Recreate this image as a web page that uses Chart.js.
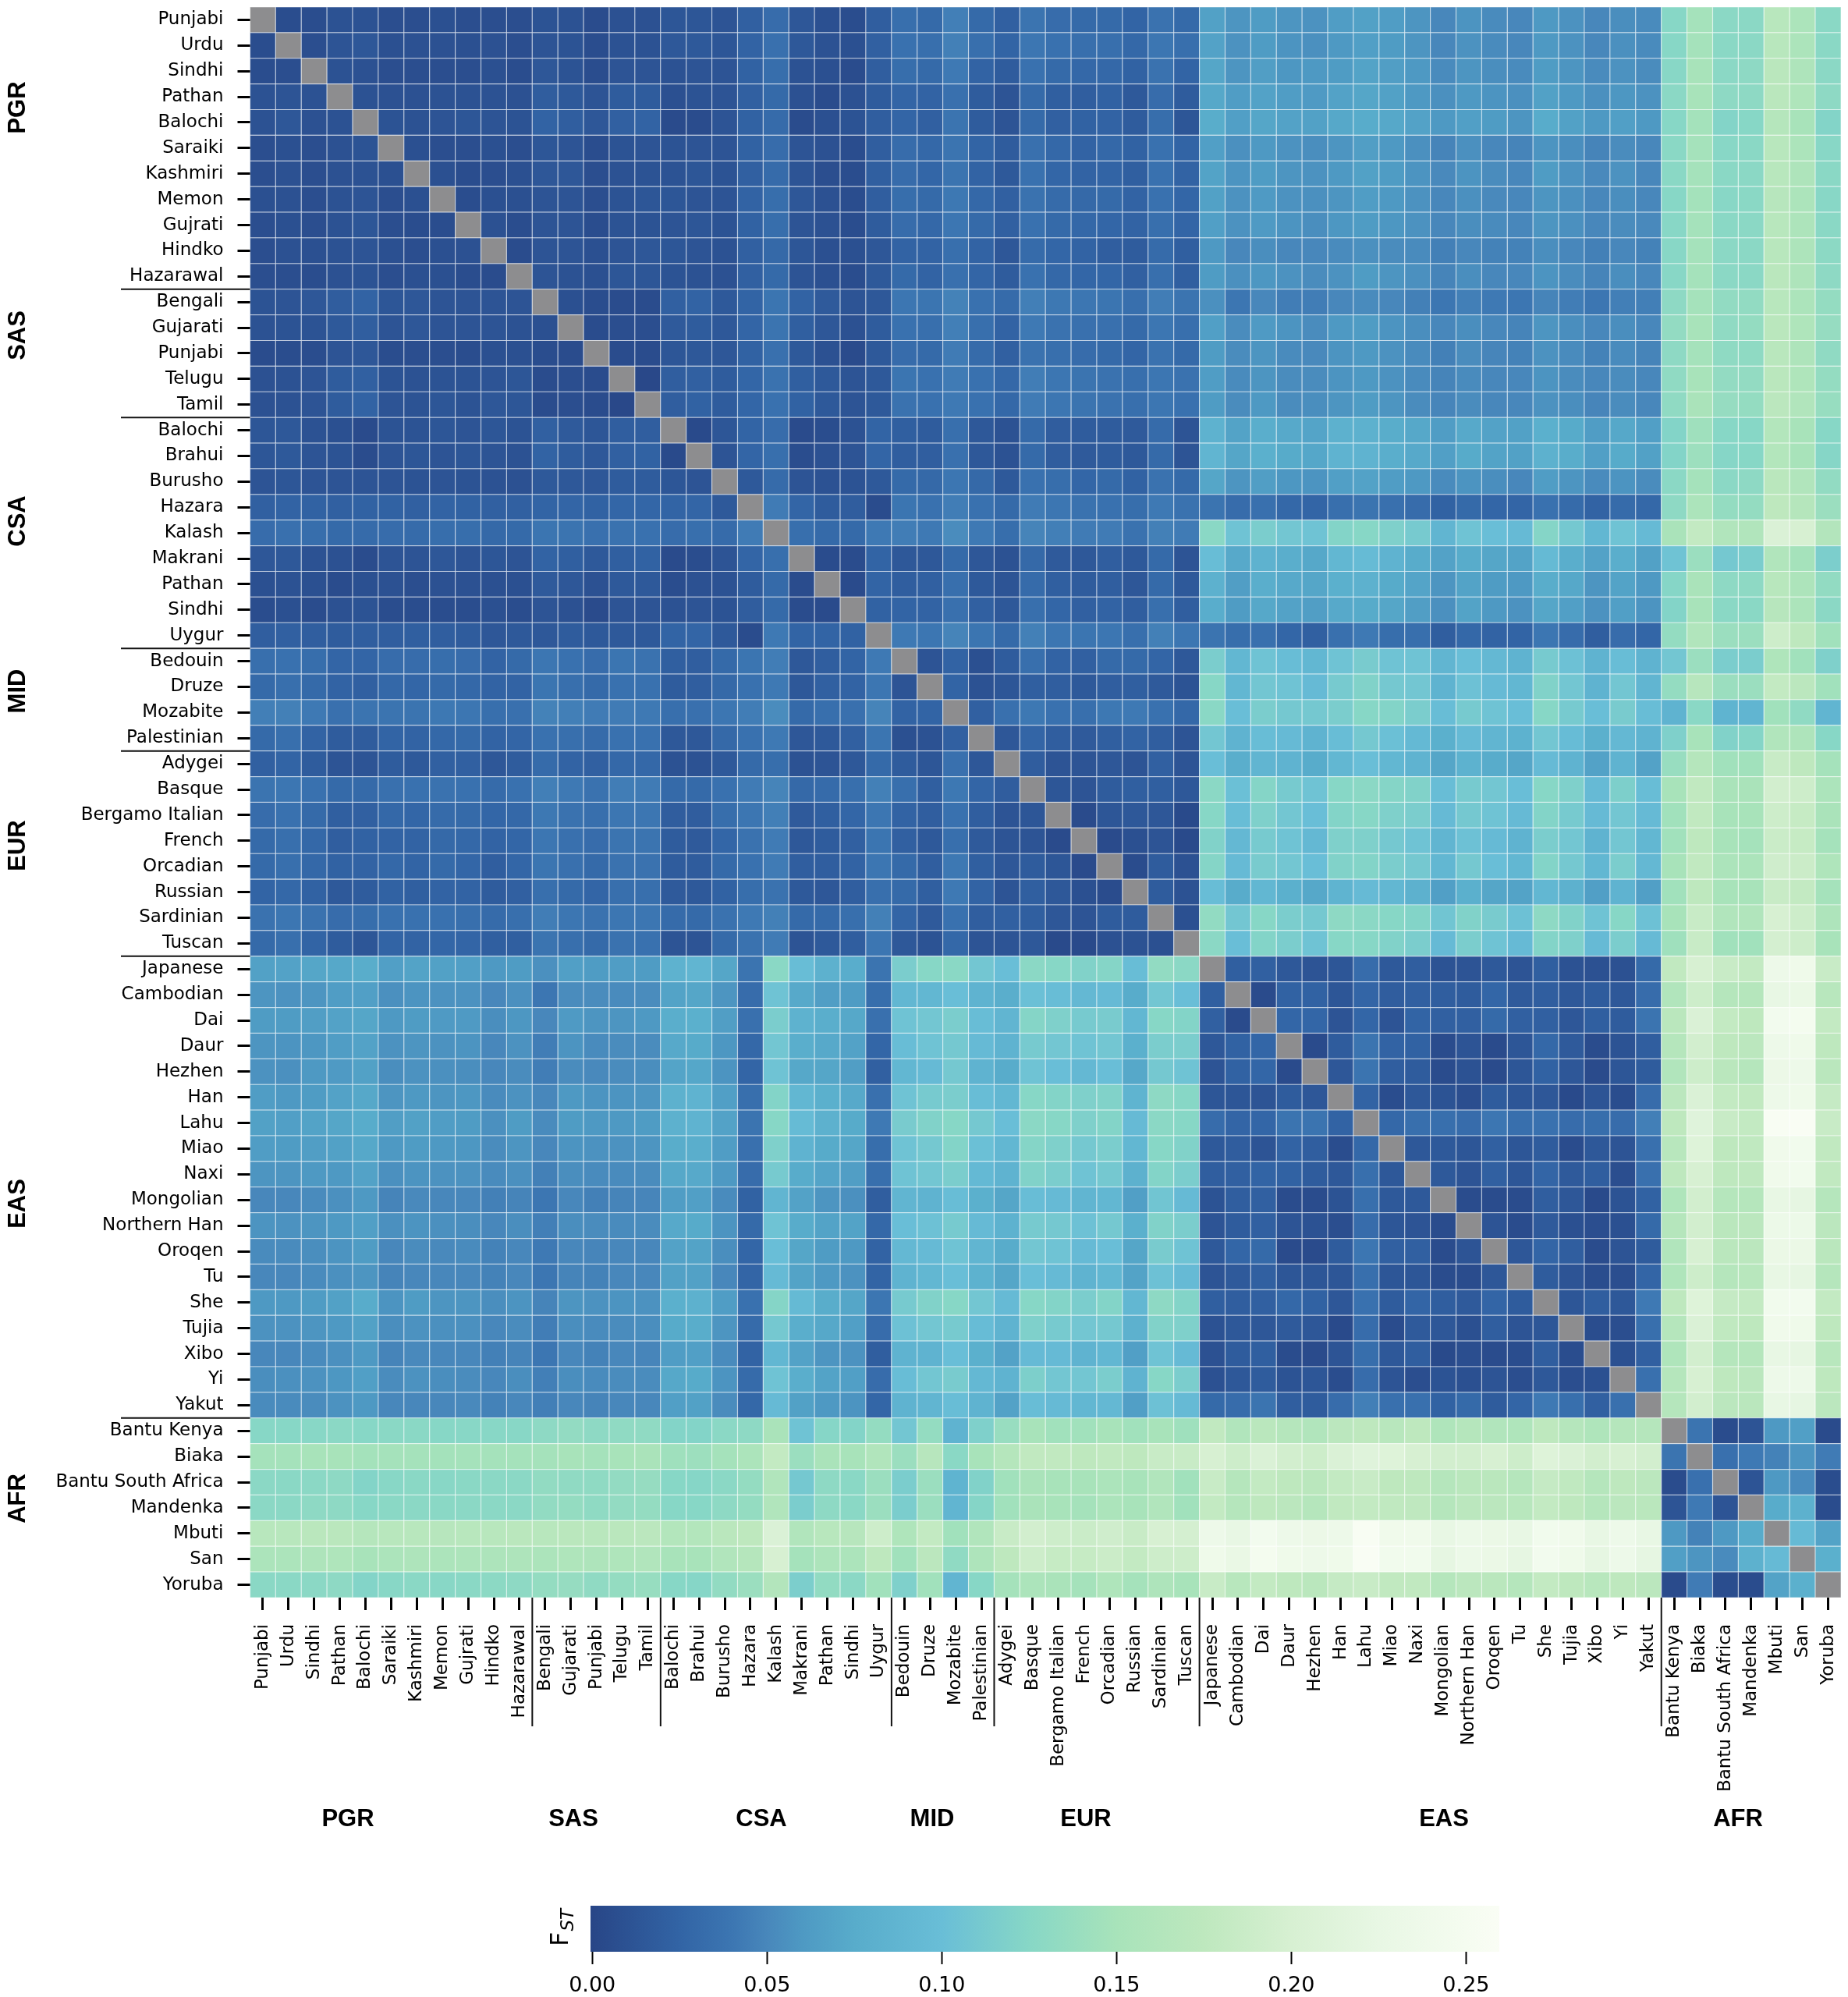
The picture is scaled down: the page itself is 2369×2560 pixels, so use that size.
<!DOCTYPE html>
<html>
<head>
<meta charset="utf-8">
<title>Pairwise FST between populations</title>
<script src="https://cdn.jsdelivr.net/npm/chart.js@4"></script>
<style>
  html, body { margin: 0; padding: 0; background: #fff; }
  #wrap { position: relative; width: 2369px; height: 2560px; overflow: hidden; }
  canvas { position: absolute; left: 0; display: block; }
</style>
</head>
<body>
<div id="wrap">
  <canvas id="heat" width="2369" height="2360" style="top:0"></canvas>
  <canvas id="cbar" width="2369" height="200" style="top:2360px"></canvas>
</div>
<script>
// Population labels, top to bottom and left to right
const populations = [
  'Punjabi','Urdu','Sindhi','Pathan','Balochi','Saraiki','Kashmiri','Memon','Gujrati','Hindko','Hazarawal',
  'Bengali','Gujarati','Punjabi','Telugu','Tamil',
  'Balochi','Brahui','Burusho','Hazara','Kalash','Makrani','Pathan','Sindhi','Uygur',
  'Bedouin','Druze','Mozabite','Palestinian',
  'Adygei','Basque','Bergamo Italian','French','Orcadian','Russian','Sardinian','Tuscan',
  'Japanese','Cambodian','Dai','Daur','Hezhen','Han','Lahu','Miao','Naxi','Mongolian','Northern Han','Oroqen','Tu','She','Tujia','Xibo','Yi','Yakut',
  'Bantu Kenya','Biaka','Bantu South Africa','Mandenka','Mbuti','San','Yoruba'
];
const groupNames = ['PGR','SAS','CSA','MID','EUR','EAS','AFR'];
// Index of the first population after each group boundary line
const groupBreaks = [11,16,25,29,37,55];

// Upper triangle of the FST matrix (values x 1000); each row starts just right of the diagonal
const pgrRows = [
 [6,6,10,10,7,7,8,7,7,7, 11,10,5,9,9, 13,13,12,22,32,14,8,6,20, 34,30,45,30, 22,38,32,30,30,25,37,30, 66,58,62,58,56,63,66,63,58,50,57,52,50,60,56,50,54,52, 125,148,128,128,168,155,127],
 [7,12,14,8,9,9,8,9,7, 12,11,6,10,10, 15,16,13,24,35,15,10,8,22, 36,34,46,34, 25,40,36,34,34,28,40,34, 67,56,62,57,55,60,65,62,58,50,56,52,50,60,56,50,55,52, 125,148,127,128,168,155,127],
 [10,9,7,7,7,7,8,6, 14,11,6,12,12, 10,12,12,23,33,10,8,5,20, 33,30,42,24, 18,36,30,28,28,23,37,25, 70,58,64,59,60,62,68,64,60,52,58,54,52,62,58,52,56,53, 126,150,128,130,170,157,128],
 [10,9,9,10,10,10,9, 19,16,12,18,18, 8,11,12,22,30,9,5,9,18, 26,24,35,18, 12,30,21,20,23,16,32,18, 72,63,67,63,61,67,70,66,60,55,60,57,55,66,60,55,59,56, 128,150,130,130,170,158,130],
 [11,10,12,13,12,11, 24,20,14,22,24, 4,5,12,23,31,5,8,11,20, 26,22,38,18, 12,30,22,23,24,18,33,13, 76,65,70,67,66,72,75,72,67,60,65,62,58,75,66,60,65,60, 125,147,122,125,165,150,122],
 [8,7,7,8,7, 13,12,6,11,12, 11,12,12,23,32,12,9,6,20, 32,28,38,25, 18,35,28,24,28,23,36,25, 65,55,60,56,54,58,64,60,55,48,55,50,48,57,54,48,53,50, 127,148,126,127,168,155,126],
 [8,6,7,8, 14,14,7,10,11, 11,13,11,22,31,12,7,6,21, 32,27,38,24, 16,36,27,24,25,21,36,24, 68,57,62,58,56,60,66,62,57,51,57,53,50,62,56,51,56,50, 127,148,127,128,168,157,127],
 [6,8,8, 12,12,7,11,13, 13,12,12,24,33,14,9,6,20, 33,30,41,28, 22,37,31,29,30,24,36,27, 66,56,61,56,55,58,63,60,56,50,55,51,50,58,55,50,54,50, 125,147,126,127,167,155,126],
 [9,6, 12,12,6,11,11, 12,13,11,23,33,12,9,6,18, 32,28,40,30, 22,36,30,28,27,24,34,26, 65,56,61,57,54,59,62,59,56,50,54,52,50,58,55,50,53,51, 126,148,127,128,168,156,127],
 [5, 12,12,8,12,14, 13,12,10,22,29,13,8,8,14, 24,24,34,24, 14,31,27,24,20,18,31,21, 60,50,54,50,50,52,55,53,52,46,50,47,47,54,50,46,50,47, 126,148,128,128,168,156,129],
 [12,10,8,13,13, 11,10,9,22,30,12,8,6,16, 30,24,35,26, 18,36,28,27,27,22,34,21, 62,55,59,56,53,56,62,58,55,48,54,50,50,57,53,48,54,50, 126,148,128,128,170,157,130]
];
const sasRows = [
 [8,6,5,5, 22,24,16,25,39,24,17,12,15, 40,39,47,36, 31,45,41,40,39,34,44,38, 55,40,50,44,44,50,52,50,46,40,45,42,40,48,44,40,45,45, 130,148,133,133,168,155,135],
 [5,7,7, 17,18,15,26,38,21,14,9,18, 36,34,45,34, 24,42,37,35,35,30,40,34, 65,53,61,57,53,60,62,57,54,50,54,50,48,58,54,50,54,50, 134,150,132,135,170,158,136],
 [5,5, 13,15,14,23,35,16,9,4,16, 32,30,43,31, 22,37,34,32,30,26,37,30, 62,53,58,52,51,57,60,56,52,46,53,49,47,56,52,47,52,48, 130,148,131,131,169,157,132],
 [2, 20,22,18,27,37,21,16,12,16, 39,36,43,36, 28,44,40,38,37,34,40,37, 63,52,58,53,53,57,60,56,52,48,52,50,50,57,53,50,53,50, 132,150,134,134,170,158,135],
 [20,23,18,27,36,23,16,12,16, 37,36,42,36, 28,43,40,38,37,34,40,36, 62,53,60,53,54,58,62,58,53,49,53,50,50,56,54,49,53,50, 132,152,136,135,172,160,137]
];
const csaRows = [
 [3,13,25,32,4,6,10,25, 21,18,34,15, 10,30,19,18,18,17,31,12, 84,68,78,73,69,82,82,76,72,63,73,67,66,80,74,63,72,65, 122,143,125,125,163,150,125],
 [12,26,34,6,9,12,26, 20,20,35,15, 10,30,19,17,18,16,30,12, 88,70,80,74,71,85,85,78,73,65,74,68,66,82,76,65,74,66, 122,142,124,125,163,150,124],
 [16,31,12,10,11,16, 30,29,40,29, 16,36,33,27,30,23,37,30, 70,58,64,59,57,65,67,63,60,52,57,54,50,63,58,52,57,53, 128,148,128,130,170,160,133],
 [43,26,18,19,5, 39,36,44,36, 30,43,40,37,36,33,42,37, 38,32,35,28,26,34,38,35,32,23,30,27,26,36,31,24,31,28, 130,155,135,135,175,165,140],
 [34,30,30,42, 44,42,53,42, 33,48,45,43,43,37,46,43, 127,105,115,108,105,122,125,118,112,88,105,100,95,123,110,90,105,95, 152,180,160,160,205,200,162],
 [5,5,25, 15,15,30,14, 10,29,17,15,20,16,30,12, 98,73,84,78,72,90,96,85,75,67,75,70,68,94,78,67,78,66, 105,140,110,115,160,148,116],
 [4,25, 20,22,34,16, 12,31,21,18,20,14,30,16, 82,64,78,73,70,80,82,74,69,58,68,62,60,76,72,58,68,60, 124,152,130,130,168,156,133],
 [23, 25,24,35,22, 15,34,27,22,24,20,34,20, 77,62,72,67,64,73,74,70,64,55,68,60,56,70,65,56,65,57, 122,150,127,127,167,155,128],
 [42,40,48,39, 30,46,40,39,40,34,46,40, 38,33,35,27,22,35,42,33,34,20,28,24,25,40,32,20,32,27, 135,160,140,140,190,175,145]
];
const midRows = [
 [12,24,8, 18,34,24,22,30,30,26,15, 115,90,105,98,90,105,113,105,105,88,100,92,85,112,103,85,98,85, 108,140,115,115,158,145,118],
 [25,10, 13,21,20,16,20,21,17,11, 125,90,108,105,95,112,120,110,108,85,103,95,90,120,108,85,108,88, 135,167,140,140,180,172,145],
 [22, 35,41,36,34,41,42,36,28, 127,100,115,110,110,115,125,122,115,98,112,105,100,125,112,100,113,98, 85,127,86,88,145,132,88],
 [14,26,20,17,21,24,20,12, 108,85,98,95,85,98,110,102,93,80,95,88,83,108,97,80,92,85, 118,150,120,123,160,157,125]
];
const eurRows = [
 [19,12,12,14,12,22,12, 100,78,88,85,75,90,100,90,85,70,83,75,70,95,85,67,85,67, 138,165,145,145,185,175,148],
 [13,12,18,21,21,15, 128,102,123,112,105,125,128,123,120,98,112,108,100,125,118,95,117,98, 150,178,152,152,195,190,155],
 [4,13,15,14,3, 125,98,118,108,100,122,125,118,115,95,110,105,95,122,112,95,108,95, 145,178,150,150,190,183,152],
 [4,8,12,3, 120,92,112,105,92,118,118,110,105,88,103,95,85,115,108,85,108,90, 145,175,150,148,187,183,148],
 [5,18,9, 123,95,113,108,100,120,122,115,110,90,110,100,90,122,110,90,115,92, 150,178,155,155,192,188,158],
 [18,10, 98,75,90,80,72,86,95,90,82,65,80,70,68,90,82,65,85,65, 145,175,150,150,185,180,148],
 [8, 133,108,125,115,110,130,128,125,122,107,120,113,103,130,120,105,125,103, 150,185,160,160,200,190,157],
 [128,100,122,115,105,125,125,120,115,95,115,105,95,122,118,95,115,95, 143,185,145,145,197,190,150]
];
const easRows = [
 [21,22,15,12,13,32,16,20,11,12,16,12,21,10,9,9,30, 178,200,185,180,235,238,185],
 [4,23,23,13,26,19,22,20,18,27,17,20,15,18,15,32, 160,190,165,165,225,228,168],
 [27,27,12,27,12,25,22,22,30,22,22,14,21,18,38, 170,205,180,175,245,248,180],
 [4,18,38,24,23,5,12,4,13,28,17,5,11,20, 165,195,175,172,235,238,175],
 [14,38,20,18,5,10,4,13,23,14,4,13,18, 160,190,170,165,232,235,170],
 [24,6,15,11,7,18,13,14,3,12,6,32, 172,205,180,178,235,238,182],
 [28,34,34,32,40,34,36,32,33,32,45, 175,212,185,180,255,258,185],
 [15,16,13,22,13,18,5,15,12,35, 168,210,175,177,240,243,178],
 [16,12,22,13,26,17,20,7,35, 175,200,175,176,240,243,178],
 [5,5,5,20,14,3,11,23, 158,195,165,165,225,222,165],
 [12,5,17,8,7,8,30, 165,195,170,172,233,233,172],
 [14,26,20,5,12,18, 160,200,170,172,230,230,170],
 [18,12,6,7,26, 158,190,165,168,225,222,165],
 [13,20,15,42, 175,210,182,180,243,245,180],
 [6,7,34, 165,205,177,175,240,238,175],
 [8,22, 158,195,165,165,225,222,168],
 [35, 165,200,175,172,235,235,175],
 [165,195,172,170,225,222,172]
];
const afrRows = [
 [38,5,12,60,65,4],
 [35,42,47,58,43],
 [12,60,52,6],
 [75,82,5],
 [95,68],
 [80],
 []
];

// Colour scale: value stop and the colour drawn there
const cmapStops = [0, 0.025, 0.04, 0.05, 0.06, 0.075, 0.10, 0.125, 0.15, 0.175, 0.20, 0.225, 0.25, 0.26];
const cmapColors = [
  [40,70,135],[50,100,165],[60,118,178],[72,135,187],[78,153,195],[88,172,203],[105,190,215],
  [135,215,198],[168,227,186],[190,232,190],[215,240,210],[232,247,228],[245,252,240],[250,253,245]
];
const colorbarTicks = [0, 0.05, 0.10, 0.15, 0.20, 0.25];
const colorbarRange = [-0.0005, 0.2595];
const missingColor = '#8d8d8f';

const upperRows = [].concat(pgrRows, sasRows, csaRows, midRows, eurRows, easRows, afrRows);

function fstAt(r, c) {
  if (r === c) return null;
  const a = Math.min(r, c), b = Math.max(r, c);
  return upperRows[a][b - a - 1] / 1000;
}

function colourFor(v) {
  if (v === null) return missingColor;
  let i = 0;
  while (i < cmapStops.length - 2 && v > cmapStops[i + 1]) i++;
  const t = Math.min(1, Math.max(0, (v - cmapStops[i]) / (cmapStops[i + 1] - cmapStops[i])));
  const a = cmapColors[i], b = cmapColors[i + 1];
  return 'rgb(' + [0,1,2].map(k => Math.round(a[k] + (b[k] - a[k]) * t)).join(',') + ')';
}

const cells = [];
populations.forEach((_, r) => populations.forEach((_, c) => cells.push({ x: c, y: r, v: fstAt(r, c) })));

const tickFont = { family: '"DejaVu Sans"', size: 23 };
const populationTicks = s => { s.ticks = populations.map((_, i) => ({ value: i })); };
// Axis boxes are a fixed size so the cell grid stays square
const fixBox = (s, side, size) => {
  s[side] = size;
  s.paddingTop = s.paddingBottom = s.paddingLeft = s.paddingRight = 0;
};

// Group titles and the rules that separate the groups
const groupDecor = {
  id: 'groupDecor',
  afterDraw(chart) {
    const { ctx, scales: { x, y } } = chart;
    ctx.save();
    ctx.strokeStyle = '#111';
    ctx.lineWidth = 2;
    groupBreaks.forEach(b => {
      const py = y.getPixelForValue(b - 0.5);
      const px = x.getPixelForValue(b - 0.5);
      ctx.beginPath(); ctx.moveTo(155, py); ctx.lineTo(y.right, py); ctx.stroke();
      ctx.beginPath(); ctx.moveTo(px, x.top); ctx.lineTo(px, x.top + 165); ctx.stroke();
    });
    ctx.fillStyle = '#000';
    ctx.font = 'bold 31px "Liberation Sans"';
    ctx.textAlign = 'center';
    ctx.textBaseline = 'middle';
    const leftCentres = [138, 430, 668, 886, 1084, 1543, 1921];
    const bottomCentres = [446, 735, 976, 1195, 1392, 1851, 2228];
    groupNames.forEach((g, i) => {
      ctx.fillText(g, bottomCentres[i], 2332);
      ctx.save();
      ctx.translate(23, leftCentres[i]);
      ctx.rotate(-Math.PI / 2);
      ctx.fillText(g, 0, 0);
      ctx.restore();
    });
    ctx.restore();
  }
};

new Chart(document.getElementById('heat'), {
  type: 'scatter',
  data: { datasets: [{
    data: cells,
    pointStyle: 'rect',
    pointRadius: 23.3,
    pointHoverRadius: 23.3,
    pointBorderWidth: 1.2,
    pointBorderColor: 'rgba(255,255,255,0.5)',
    pointBackgroundColor: ctx => colourFor(ctx.raw.v)
  }] },
  plugins: [groupDecor],
  options: {
    responsive: false,
    animation: false,
    devicePixelRatio: 1,
    events: [],
    layout: { autoPadding: false, padding: { top: 9, right: 9, left: 0, bottom: 0 } },
    plugins: { legend: { display: false }, tooltip: { enabled: false }, title: { display: false } },
    scales: {
      x: {
        type: 'linear', position: 'bottom', min: -0.5, max: 61.5,
        afterBuildTicks: populationTicks,
        afterFit: s => fixBox(s, 'height', 312),
        border: { display: false },
        grid: { drawOnChartArea: false, drawTicks: true, tickLength: 16, tickWidth: 3, tickColor: '#000' },
        ticks: { autoSkip: false, minRotation: 90, maxRotation: 90, padding: 18, color: '#000', font: tickFont,
                 callback: v => populations[v] }
      },
      y: {
        type: 'linear', reverse: true, min: -0.5, max: 61.5,
        afterBuildTicks: populationTicks,
        afterFit: s => fixBox(s, 'width', 320.5),
        border: { display: false },
        grid: { drawOnChartArea: false, drawTicks: true, tickLength: 16, tickWidth: 3, tickColor: '#000' },
        ticks: { autoSkip: false, padding: 18, color: '#000', font: tickFont,
                 callback: v => populations[v] }
      }
    }
  }
});

// F_ST caption beside the colour bar
const fstCaption = {
  id: 'fstCaption',
  afterDraw(chart) {
    const { ctx } = chart;
    ctx.save();
    ctx.translate(728, 135);
    ctx.rotate(-Math.PI / 2);
    ctx.fillStyle = '#000';
    ctx.textBaseline = 'alphabetic';
    ctx.textAlign = 'left';
    ctx.font = '32px "DejaVu Sans"';
    ctx.fillText('F', 0, 0);
    const w = ctx.measureText('F').width;
    ctx.font = 'italic 23px "DejaVu Sans"';
    ctx.fillText('ST', w + 1, 7);
    ctx.restore();
  }
};

new Chart(document.getElementById('cbar'), {
  type: 'bar',
  data: {
    labels: ['FST'],
    datasets: [{
      data: [colorbarRange],
      barPercentage: 1,
      categoryPercentage: 1,
      borderWidth: 0,
      backgroundColor: ctx => {
        const s = ctx.chart.scales.x;
        const last = cmapStops[cmapStops.length - 1];
        const x0 = s.getPixelForValue(cmapStops[0]);
        const x1 = s.getPixelForValue(last);
        if (!isFinite(x0) || !isFinite(x1)) return 'rgb(105,190,215)';
        const g = ctx.chart.ctx.createLinearGradient(x0, 0, x1, 0);
        cmapStops.forEach((v, i) => g.addColorStop(v / last, 'rgb(' + cmapColors[i].join(',') + ')'));
        return g;
      }
    }]
  },
  plugins: [fstCaption],
  options: {
    indexAxis: 'y',
    responsive: false,
    animation: false,
    devicePixelRatio: 1,
    events: [],
    layout: { autoPadding: false, padding: { left: 757, right: 447, top: 83, bottom: 0 } },
    plugins: { legend: { display: false }, tooltip: { enabled: false } },
    scales: {
      y: { display: false },
      x: {
        type: 'linear', min: colorbarRange[0], max: colorbarRange[1],
        afterBuildTicks: s => { s.ticks = colorbarTicks.map(v => ({ value: v })); },
        afterFit: s => fixBox(s, 'height', 58),
        border: { display: false },
        grid: { drawOnChartArea: false, drawTicks: true, tickLength: 16, tickWidth: 2, tickColor: '#000' },
        ticks: { autoSkip: false, maxRotation: 0, minRotation: 0, padding: 12, color: '#000',
                 font: { family: '"DejaVu Sans"', size: 27 }, callback: v => v.toFixed(2) }
      }
    }
  }
});
</script>
</body>
</html>
